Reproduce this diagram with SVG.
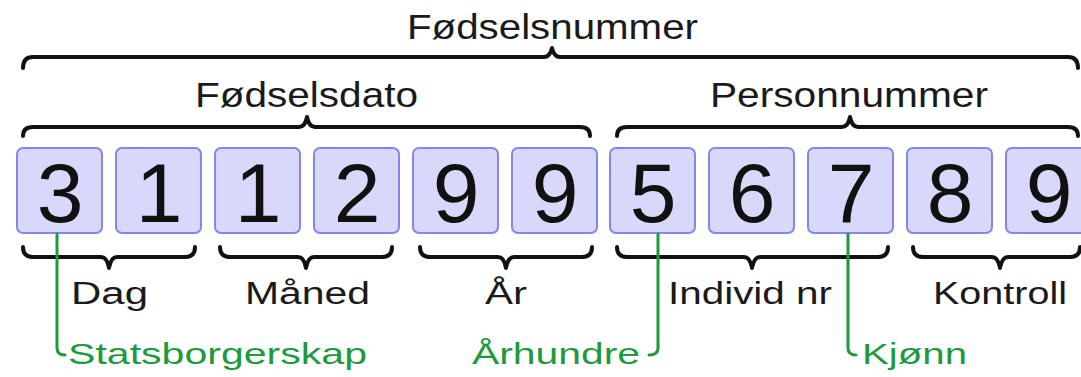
<svg xmlns="http://www.w3.org/2000/svg" width="1081" height="377" viewBox="0 0 1081 377">
<style>
.box{fill:#d8d8fb;stroke:#8585ee;stroke-width:2}
.dig{font-family:"Liberation Sans",Arial,sans-serif;font-size:84px;fill:#111;text-anchor:middle}
.lbl{font-family:"Liberation Sans",Arial,sans-serif;font-size:31px;fill:#1a1a1a}
.top{font-size:35px}
.grn{font-family:"Liberation Sans",Arial,sans-serif;font-size:29px;fill:#1e9a3e}
.br{fill:none;stroke:#111;stroke-width:4;stroke-linecap:round;stroke-linejoin:round}
.gl{fill:none;stroke:#1e9a3e;stroke-width:3;stroke-linecap:round}
</style>
<rect width="1081" height="377" fill="#fff"/>
<g id="braces">
<path class="br" d="M23,68 Q23,57 33,57 L544,57 Q550,57 552,48 Q554,57 560,57 L1068,57 Q1078,57 1078,68"/>
<path class="br" d="M23,136 Q23,127 33,127 L299,127 Q305,127 307,117 Q309,127 315,127 L580,127 Q590,127 590,136"/>
<path class="br" d="M617,136 Q617,127 627,127 L842,127 Q848,127 850,117 Q852,127 858,127 L1068,127 Q1078,127 1078,136"/>
<path class="br" d="M23,247 Q23,257 33,257 L101,257 Q107,257 109,268 Q111,257 117,257 L185,257 Q195,257 195,247"/>
<path class="br" d="M220,247 Q220,257 230,257 L298,257 Q304,257 306,268 Q308,257 314,257 L382,257 Q392,257 392,247"/>
<path class="br" d="M420,247 Q420,257 430,257 L498,257 Q504,257 506,268 Q508,257 514,257 L582,257 Q592,257 592,247"/>
<path class="br" d="M617,247 Q617,257 627,257 L744,257 Q750,257 752,268 Q754,257 760,257 L878,257 Q888,257 888,247"/>
<path class="br" d="M913,247 Q913,257 923,257 L992,257 Q998,257 1000,268 Q1002,257 1008,257 L1070,257 Q1080,257 1080,247"/>
</g>
<g id="labels">
<text class="lbl top" x="407" y="39" textLength="291" lengthAdjust="spacingAndGlyphs">Fødselsnummer</text>
<text class="lbl top" x="195" y="107" textLength="223" lengthAdjust="spacingAndGlyphs">Fødselsdato</text>
<text class="lbl top" x="710" y="107" textLength="278" lengthAdjust="spacingAndGlyphs">Personnummer</text>
<text class="lbl" x="71" y="304" textLength="77" lengthAdjust="spacingAndGlyphs">Dag</text>
<text class="lbl" x="245" y="304" textLength="125" lengthAdjust="spacingAndGlyphs">Måned</text>
<text class="lbl" x="485" y="304" textLength="42" lengthAdjust="spacingAndGlyphs">År</text>
<text class="lbl" x="668" y="304" textLength="164" lengthAdjust="spacingAndGlyphs">Individ nr</text>
<text class="lbl" x="933" y="304" textLength="134" lengthAdjust="spacingAndGlyphs">Kontroll</text>
</g>
<g id="digits">
<g id="d1"><rect class="box" x="17" y="148" width="85" height="85" rx="6"/><text class="dig" x="60" y="222">3</text></g>
<g id="d2"><rect class="box" x="116" y="148" width="85" height="85" rx="6"/><text class="dig" x="159" y="222">1</text></g>
<g id="d3"><rect class="box" x="215" y="148" width="85" height="85" rx="6"/><text class="dig" x="258" y="222">1</text></g>
<g id="d4"><rect class="box" x="314" y="148" width="85" height="85" rx="6"/><text class="dig" x="357" y="222">2</text></g>
<g id="d5"><rect class="box" x="413" y="148" width="85" height="85" rx="6"/><text class="dig" x="456" y="222">9</text></g>
<g id="d6"><rect class="box" x="512" y="148" width="85" height="85" rx="6"/><text class="dig" x="555" y="222">9</text></g>
<g id="d7"><rect class="box" x="610" y="148" width="85" height="85" rx="6"/><text class="dig" x="653" y="222">5</text></g>
<g id="d8"><rect class="box" x="709" y="148" width="85" height="85" rx="6"/><text class="dig" x="752" y="222">6</text></g>
<g id="d9"><rect class="box" x="808" y="148" width="85" height="85" rx="6"/><text class="dig" x="851" y="222">7</text></g>
<g id="d10"><rect class="box" x="907" y="148" width="85" height="85" rx="6"/><text class="dig" x="950" y="222">8</text></g>
<g id="d11"><rect class="box" x="1006" y="148" width="85" height="85" rx="6"/><text class="dig" x="1049" y="222">9</text></g>
</g>
<g id="connectors">
<path class="gl" d="M57,234 V348 Q57,355 65,355"/>
<path class="gl" d="M658,234 V348 Q658,355 649,355"/>
<path class="gl" d="M848,234 V348 Q848,355 856,355"/>
</g>
<g id="notes">
<text class="grn" x="68" y="364" textLength="299" lengthAdjust="spacingAndGlyphs">Statsborgerskap</text>
<text class="grn" x="472" y="364" textLength="168" lengthAdjust="spacingAndGlyphs">Århundre</text>
<text class="grn" x="862" y="364" textLength="105" lengthAdjust="spacingAndGlyphs">Kjønn</text>
</g>
</svg>
